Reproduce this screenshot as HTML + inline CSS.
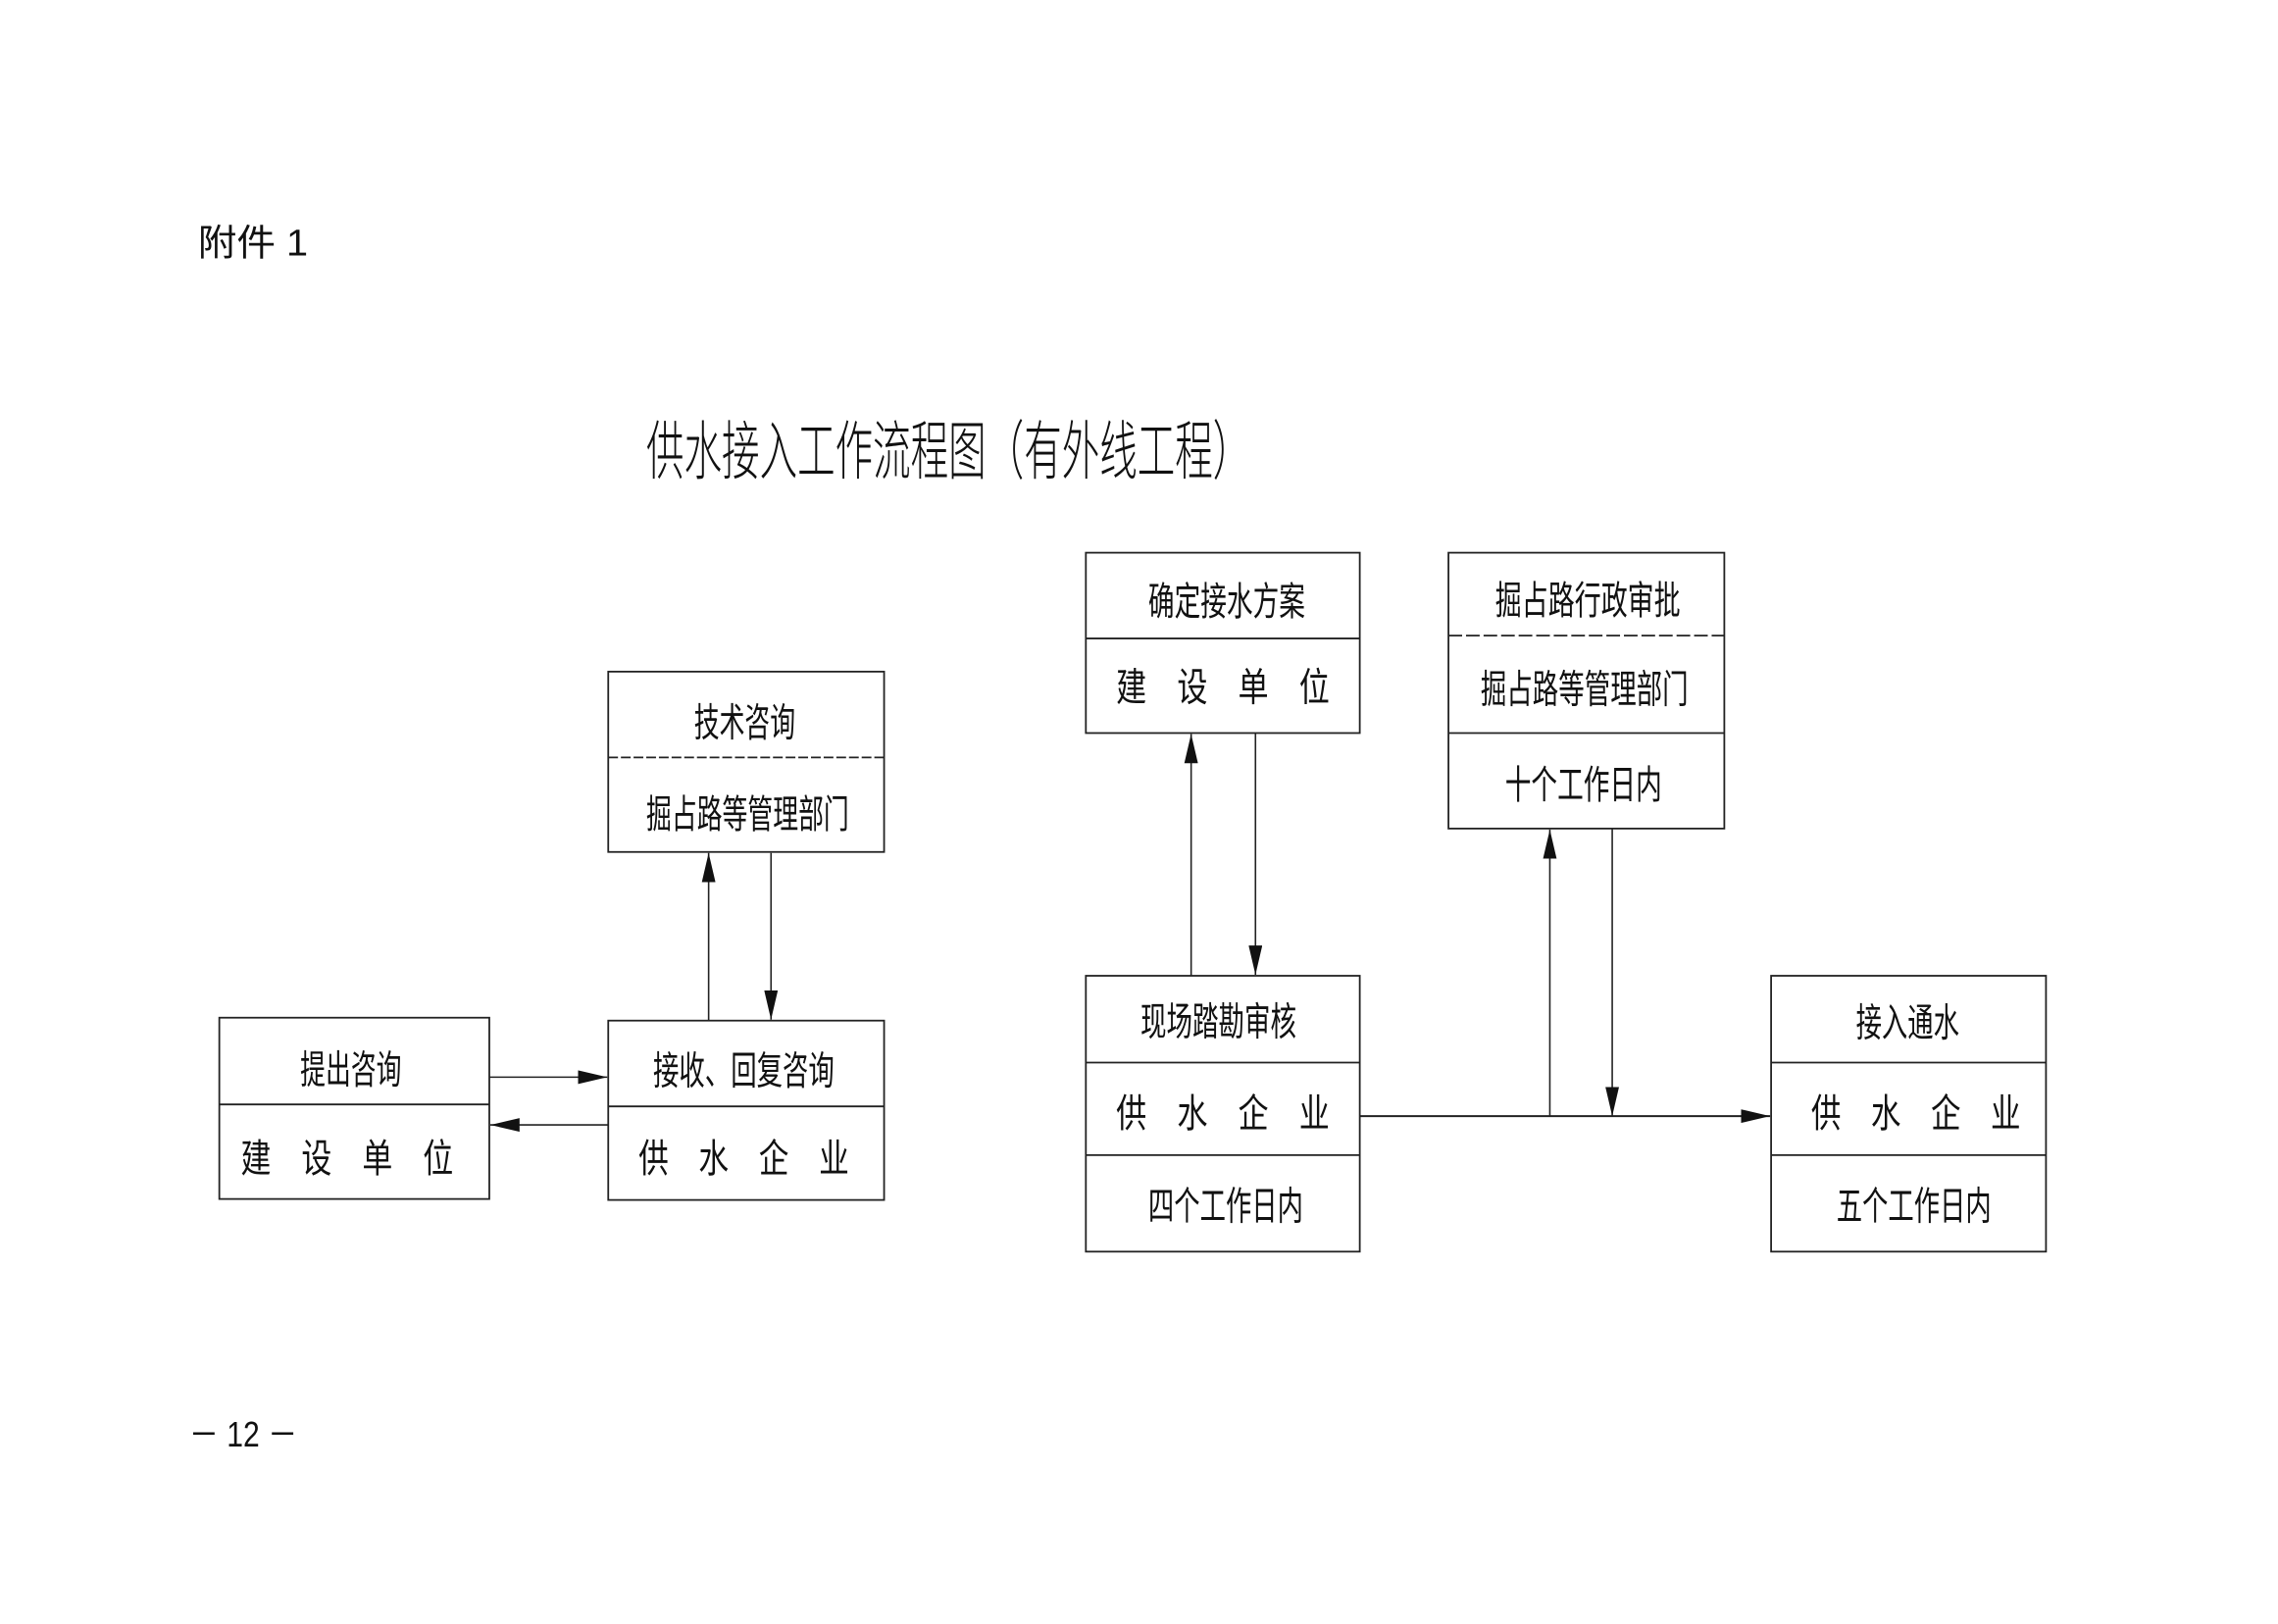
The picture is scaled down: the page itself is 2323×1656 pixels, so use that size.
<!DOCTYPE html>
<html><head><meta charset="utf-8"><style>
html,body{margin:0;padding:0;background:#fff;}
svg{display:block;}
text{font-family:"Liberation Sans","Noto Sans CJK SC",sans-serif;fill:#111;}
</style></head><body>
<svg width="2323" height="1656" viewBox="0 0 2323 1656" xmlns="http://www.w3.org/2000/svg">
<defs>
<marker id="ah" markerWidth="30" markerHeight="14" refX="30" refY="7" orient="auto" markerUnits="userSpaceOnUse">
<path d="M0,0 L30,7 L0,14 Z" fill="#111"/>
</marker>
</defs>
<g transform="scale(0.994)">
<text x="203" y="262" font-size="38" textLength="113" lengthAdjust="spacingAndGlyphs">附件 1</text>
<text x="663" y="486" font-size="66" textLength="620" lengthAdjust="spacingAndGlyphs" style="font-weight:300">供水接入工作流程图（有外线工程）</text>
<text x="194" y="1484" font-size="36" font-family="Liberation Serif" textLength="111" lengthAdjust="spacingAndGlyphs">－ 12 －</text>

<g fill="none" stroke="#222" stroke-width="1.8">
<rect x="624" y="689" width="283" height="185"/>
<line x1="624" y1="777" x2="907" y2="777" stroke-dasharray="10,3"/>
<rect x="225" y="1044" width="277" height="186"/>
<line x1="225" y1="1133" x2="502" y2="1133"/>
<rect x="624" y="1047" width="283" height="184"/>
<line x1="624" y1="1135" x2="907" y2="1135"/>
<rect x="1114" y="567" width="281" height="185"/>
<line x1="1114" y1="655" x2="1395" y2="655"/>
<rect x="1486" y="567" width="283" height="283"/>
<line x1="1486" y1="652" x2="1769" y2="652" stroke-dasharray="14,4"/>
<line x1="1486" y1="752" x2="1769" y2="752"/>
<rect x="1114" y="1001" width="281" height="283"/>
<line x1="1114" y1="1090" x2="1395" y2="1090"/>
<line x1="1114" y1="1185" x2="1395" y2="1185"/>
<rect x="1817" y="1001" width="282" height="283"/>
<line x1="1817" y1="1090" x2="2099" y2="1090"/>
<line x1="1817" y1="1185" x2="2099" y2="1185"/>
</g>

<g stroke="#222" stroke-width="1.6" fill="none">
<line x1="727" y1="1047" x2="727" y2="875" marker-end="url(#ah)"/>
<line x1="791" y1="875" x2="791" y2="1046" marker-end="url(#ah)"/>
<line x1="502" y1="1105" x2="623" y2="1105" marker-end="url(#ah)"/>
<line x1="624" y1="1154" x2="503" y2="1154" marker-end="url(#ah)"/>
<line x1="1222" y1="1001" x2="1222" y2="753" marker-end="url(#ah)"/>
<line x1="1288" y1="752" x2="1288" y2="1000" marker-end="url(#ah)"/>
<line x1="1590" y1="1145" x2="1590" y2="851" marker-end="url(#ah)"/>
<line x1="1654" y1="850" x2="1654" y2="1145" marker-end="url(#ah)"/>
<line x1="1395" y1="1145" x2="1816" y2="1145" stroke-width="2" marker-end="url(#ah)"/>
</g>

<g font-size="40">
<text x="712" y="755" textLength="104" lengthAdjust="spacingAndGlyphs">技术咨询</text>
<text x="663" y="849" textLength="208" lengthAdjust="spacingAndGlyphs">掘占路等管理部门</text>
<text x="308" y="1111" textLength="104" lengthAdjust="spacingAndGlyphs">提出咨询</text>
<text x="247" y="1202" textLength="218" lengthAdjust="spacingAndGlyphs">建　设　单　位</text>
<text x="670" y="1112" textLength="186" lengthAdjust="spacingAndGlyphs">接收、回复咨询</text>
<text x="655" y="1202" textLength="216" lengthAdjust="spacingAndGlyphs">供　水　企　业</text>
<text x="1178" y="631" textLength="161" lengthAdjust="spacingAndGlyphs">确定接水方案</text>
<text x="1145" y="719" textLength="219" lengthAdjust="spacingAndGlyphs">建　设　单　位</text>
<text x="1534" y="630" textLength="190" lengthAdjust="spacingAndGlyphs">掘占路行政审批</text>
<text x="1519" y="721" textLength="213" lengthAdjust="spacingAndGlyphs">掘占路等管理部门</text>
<text x="1544" y="819" textLength="161" lengthAdjust="spacingAndGlyphs">十个工作日内</text>
<text x="1170" y="1062" textLength="160" lengthAdjust="spacingAndGlyphs">现场踏勘审核</text>
<text x="1145" y="1156" textLength="219" lengthAdjust="spacingAndGlyphs">供　水　企　业</text>
<text x="1178" y="1251" textLength="159" lengthAdjust="spacingAndGlyphs">四个工作日内</text>
<text x="1904" y="1063" textLength="106" lengthAdjust="spacingAndGlyphs">接入通水</text>
<text x="1858" y="1156" textLength="215" lengthAdjust="spacingAndGlyphs">供　水　企　业</text>
<text x="1884" y="1251" textLength="159" lengthAdjust="spacingAndGlyphs">五个工作日内</text>
</g>
</g>
</svg>
</body></html>
